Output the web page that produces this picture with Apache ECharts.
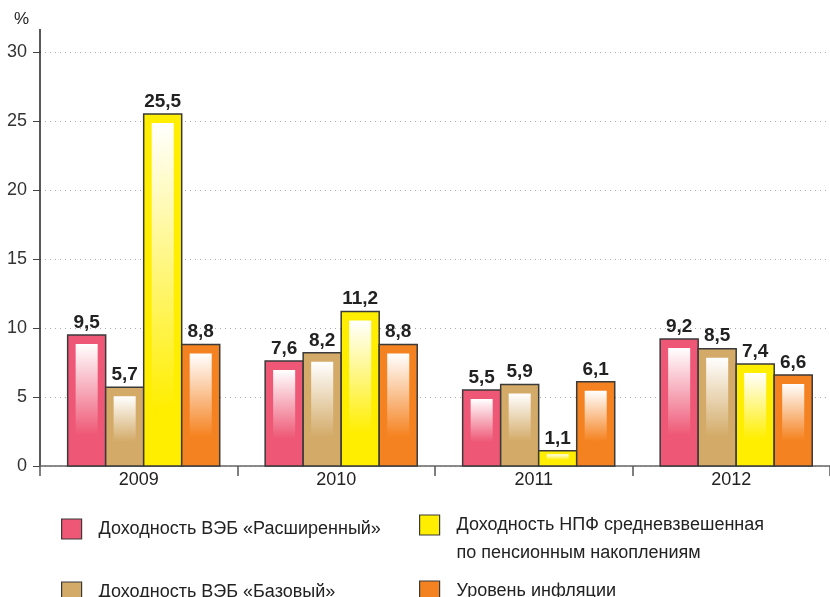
<!DOCTYPE html>
<html>
<head>
<meta charset="utf-8">
<script src="https://cdn.jsdelivr.net/npm/echarts@6/dist/echarts.min.js"></script>
<style>html,body{margin:0;padding:0;background:#fff}#c{width:830px;height:597px}</style>
</head>
<body>
<div id="c"></div>
<script>
const categories = ['2009', '2010', '2011', '2012'];
const vebExtended = [9.5, 7.6, 5.5, 9.2];
const vebBasic = [5.7, 8.2, 5.9, 8.5];
const npfAverage = [25.5, 11.2, 1.1, 7.4];
const inflation = [8.8, 8.8, 6.1, 6.6];
const seriesNames = [
  'Доходность ВЭБ «Расширенный»',
  'Доходность ВЭБ «Базовый»',
  'Доходность НПФ средневзвешенная',
  'Уровень инфляции'
];
const npfSecondLine = 'по пенсионным накоплениям';
const seriesValues = [vebExtended, vebBasic, npfAverage, inflation];
const colors = ['#EE5775', '#D3AA67', '#FFEE00', '#F58220'];
const yTicks = [0, 5, 10, 15, 20, 25, 30];

const FONT = '"Liberation Sans", Arial, sans-serif';
const chart = echarts.init(document.getElementById('c'));

function makeRender(idx) {
  const color = colors[idx];
  return function (params, api) {
    const cat = api.value(0);
    const val = api.value(1);
    const base = api.coord([cat, 0]);
    const top = api.coord([cat, val]);
    const band = api.size([1, 0])[0];
    const bw = band * 0.1925;
    const off = band * 0.025;
    const x = base[0] + off + (idx - 2) * bw;
    const h = base[1] - top[1];
    const it = Math.min(9, h * 0.22);
    const ib = Math.min(18, h * 0.35);
    return {
      type: 'group',
      children: [
        { type: 'rect', shape: { x: x, y: top[1], width: bw, height: h },
          style: { fill: color, stroke: '#3a3a3a', lineWidth: 1.5 } },
        { type: 'rect', shape: { x: x + bw * 0.21, y: top[1] + it, width: bw * 0.58, height: Math.max(0, h - it - ib) },
          style: { fill: new echarts.graphic.LinearGradient(0, 0, 0, 1, [
            { offset: 0, color: '#ffffff' }, { offset: 0.88, color: color }, { offset: 1, color: color }]) } },
        { type: 'text', style: { text: val.toFixed(1).replace('.', ','), x: x + bw / 2, y: top[1] - 3,
          align: 'center', verticalAlign: 'bottom', font: 'bold 19px ' + FONT, fill: '#222' } }
      ]
    };
  };
}

const series = seriesNames.map((name, i) => ({
  name: name,
  type: 'custom',
  renderItem: makeRender(i),
  itemStyle: { color: colors[i] },
  encode: { x: 0, y: 1 },
  data: categories.map((c, k) => [k, seriesValues[i][k]]),
  z: 5
}));

const legendText = { fontFamily: FONT, fontSize: 18, color: '#222', lineHeight: 28, padding: [0, 0, 0, 12] };
const legendBase = {
  orient: 'vertical', icon: 'rect', itemWidth: 20, itemHeight: 20, itemGap: 10,
  selectedMode: false, padding: 0,
  itemStyle: { borderColor: '#3a3a3a', borderWidth: 1.2 },
  textStyle: legendText
};

chart.setOption({
  animation: false,
  grid: { left: 40, right: 0, top: 52, bottom: 131 },
  legend: [
    Object.assign({}, legendBase, { left: 61, top: 515, data: [seriesNames[0]] }),
    Object.assign({}, legendBase, { left: 61, top: 578, data: [seriesNames[1]] }),
    Object.assign({}, legendBase, { left: 419, top: 483, data: [seriesNames[2]],
      formatter: (n) => ' \n' + n + '\n' + npfSecondLine }),
    Object.assign({}, legendBase, { left: 419, top: 577, data: [seriesNames[3]] })
  ],
  xAxis: {
    type: 'category', data: categories, boundaryGap: true,
    axisLine: { lineStyle: { color: '#666', width: 1.5 } },
    axisTick: { show: true, length: 10, lineStyle: { color: '#555', width: 1.5 } },
    axisLabel: { fontFamily: FONT, fontSize: 18, color: '#222', margin: 5 }
  },
  yAxis: {
    type: 'value', min: yTicks[0], max: yTicks[yTicks.length - 1], interval: 5,
    name: '%', nameLocation: 'end', nameGap: 24,
    nameTextStyle: { fontFamily: FONT, fontSize: 17, color: '#222', align: 'right', padding: [0, 11, 0, 0] },
    axisLine: { show: true, lineStyle: { color: '#222', width: 1.5 } },
    axisTick: { show: true, length: 7, lineStyle: { color: '#444', width: 1 } },
    axisLabel: { fontFamily: FONT, fontSize: 18, color: '#333', margin: 13 },
    splitLine: { show: true, lineStyle: { color: '#aaa', type: [1, 4], width: 1 } }
  },
  series: series
});

const p30 = chart.convertToPixel({ yAxisIndex: 0 }, 30);
chart.setOption({
  graphic: [{ type: 'line', shape: { x1: 40, y1: p30, x2: 40, y2: p30 - 23 },
    style: { stroke: '#222', lineWidth: 1.5 }, z: 10 }]
});
</script>
</body>
</html>
